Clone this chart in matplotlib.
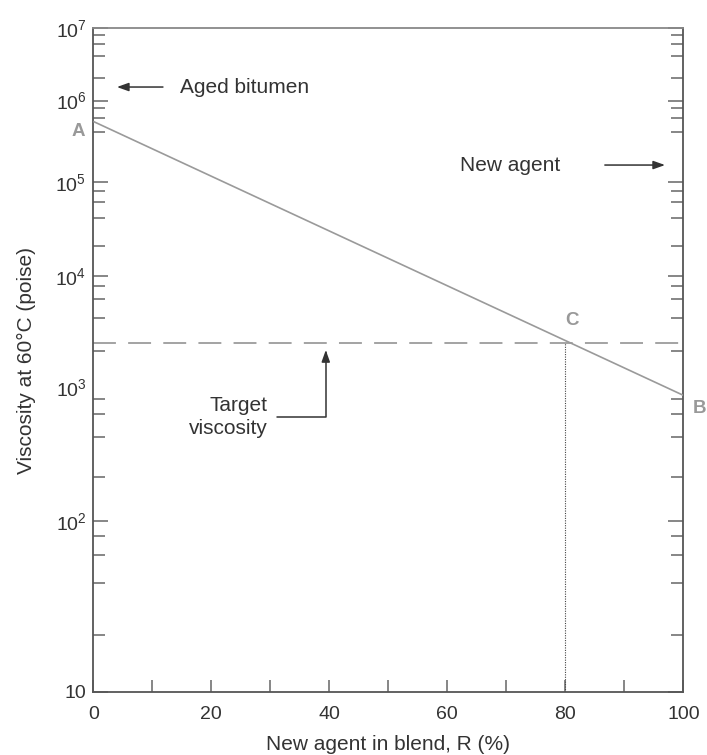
import numpy as np
import matplotlib
matplotlib.use('Agg')
import matplotlib.pyplot as plt
from matplotlib.ticker import FixedLocator, FixedFormatter, NullFormatter

plt.rcParams['font.family'] = ['Liberation Sans', 'DejaVu Sans']
plt.rcParams['mathtext.fontset'] = 'custom'
plt.rcParams['mathtext.rm'] = 'Liberation Sans'
plt.rcParams['mathtext.it'] = 'Liberation Sans:italic'
plt.rcParams['mathtext.bf'] = 'Liberation Sans:bold'

# ── data ─────────────────────────────────────────────────────────────────────
blend_pct = [0, 100]              # new agent in blend, R (%)
blend_visc = [5.4e5, 850]         # A = aged bitumen, B = new agent (poise)
target_visc = 2350                # target viscosity (poise)
c_pct = 80                        # blend ratio at point C

y_major = [10, 1e2, 1e3, 1e4, 1e5, 1e6, 1e7]
y_major_labels = ['10', '$10^2$', '$10^3$', '$10^4$', '$10^5$', '$10^6$', '$10^7$']
y_minor = [20, 40, 60, 80,
           200, 400, 600, 800,
           2e3, 4e3, 6e3, 8e3,
           2e4, 4e4, 6e4, 8e4,
           4e5, 6e5, 8e5,
           2e6, 4e6, 6e6, 8e6]
x_major = [0, 20, 40, 60, 80, 100]
x_minor = [10, 30, 50, 70, 90]

# blending chart scale: log(log(visc) + k)
K_OFF = 2.2
def fwd(v):
    v = np.clip(np.asarray(v, dtype=float), 1e-2, None)
    return np.log10(np.log10(v) + K_OFF)

def inv(t):
    return 10 ** (10 ** np.asarray(t, dtype=float) - K_OFF)

DARK = '#333333'
AX_COL = '#555555'
FS_TXT = 15

fig = plt.figure(figsize=(7.07, 7.55), dpi=100)
ax = fig.add_axes([0.132, 0.0838, 0.8345, 0.8787])
ax.set_yscale('function', functions=(fwd, inv))
ax.set_xlim(0, 100)
ax.set_ylim(10, 1e7)

# blend line A-B
ax.plot(blend_pct, blend_visc, color='#9a9a9a', lw=1.2, solid_capstyle='butt', zorder=3)
# target viscosity
ax.plot([0, 100], [target_visc, target_visc], color='#8a8a8a', lw=1.1,
        dashes=(15, 8), zorder=2)
# drop line from C
ax.plot([c_pct, c_pct], [10, target_visc], color='#444444', lw=0.8,
        linestyle=(0, (1, 1.2)), zorder=2)

# ── axes / ticks ─────────────────────────────────────────────────────────────
ax.yaxis.set_major_locator(FixedLocator(y_major))
ax.yaxis.set_major_formatter(FixedFormatter(y_major_labels))
ax.yaxis.set_minor_locator(FixedLocator(y_minor))
ax.yaxis.set_minor_formatter(NullFormatter())
ax.xaxis.set_major_locator(FixedLocator(x_major))
ax.xaxis.set_minor_locator(FixedLocator(x_minor))

ax.tick_params(axis='y', which='major', direction='in', length=11, width=1.1,
               color='#666666', right=True, labelsize=14, pad=5, labelcolor=DARK)
ax.tick_params(axis='y', which='minor', direction='in', length=8.5, width=1.1,
               color='#666666', right=True)
ax.tick_params(axis='x', which='both', direction='in', length=9, width=1.1,
               color='#666666', top=False, labelsize=14, pad=10, labelcolor=DARK)

# the original has no tick mark at 10^3
t3 = ax.yaxis.get_major_ticks()[2]
t3.tick1line.set_visible(False)
t3.tick2line.set_visible(False)

for sp in ax.spines.values():
    sp.set_edgecolor(AX_COL)
    sp.set_linewidth(1.3)
ax.spines['top'].set_edgecolor('#888888')

ax.set_xlabel('New agent in blend, R (%)', fontsize=FS_TXT, color=DARK, labelpad=9)
ax.set_ylabel('Viscosity at 60°C (poise)', fontsize=FS_TXT, color=DARK, labelpad=14)

# ── annotations ──────────────────────────────────────────────────────────────
arrow_kw = dict(arrowstyle='-|>,head_length=0.7,head_width=0.25', color='#333333',
                lw=1.1, shrinkA=0, shrinkB=0)

ax.annotate('', xy=(0.040, 0.9115), xytext=(0.118, 0.9115),
            xycoords='axes fraction', textcoords='axes fraction', arrowprops=arrow_kw)
ax.text(0.147, 0.9115, 'Aged bitumen', transform=ax.transAxes, fontsize=FS_TXT,
        color=DARK, ha='left', va='center')

ax.text(0.6215, 0.7939, 'New agent', transform=ax.transAxes, fontsize=FS_TXT,
        color=DARK, ha='left', va='center')
ax.annotate('', xy=(0.969, 0.7939), xytext=(0.867, 0.7939),
            xycoords='axes fraction', textcoords='axes fraction', arrowprops=arrow_kw)

ax.text(0.296, 0.414, 'Target\nviscosity', transform=ax.transAxes, fontsize=FS_TXT,
        color=DARK, ha='right', va='center', linespacing=1.3)
ax.annotate('', xy=(0.394, 0.515), xytext=(0.311, 0.414),
            xycoords='axes fraction', textcoords='axes fraction',
            arrowprops=dict(arrow_kw, connectionstyle='angle,angleA=0,angleB=90,rad=0'))

pt_kw = dict(fontsize=13.5, fontweight='bold', color='#999999', clip_on=False)
ax.text(-0.026, 0.845, 'A', transform=ax.transAxes, ha='center', va='center', **pt_kw)
ax.text(1.016, 0.427, 'B', transform=ax.transAxes, ha='left', va='center', **pt_kw)
ax.annotate('C', xy=(c_pct, target_visc), xytext=(7, 23), textcoords='offset pixels',
            ha='center', va='center', **pt_kw)

fig.savefig('out.png', dpi=100)
